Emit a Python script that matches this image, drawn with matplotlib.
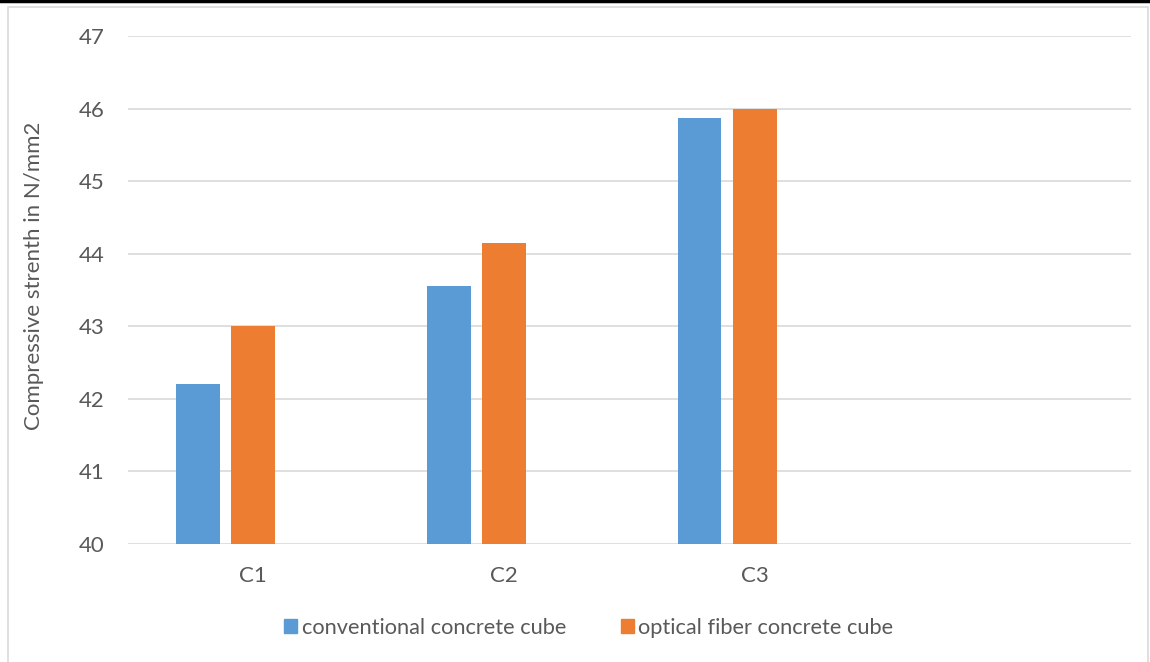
import matplotlib.pyplot as plt
import numpy as np
from matplotlib.patches import Rectangle
from matplotlib.lines import Line2D

categories = ["C1", "C2", "C3", ""]
conventional = [42.2, 43.56, 45.87, None]
optical_fiber = [43.0, 44.15, 46.0, None]
series_names = ["conventional concrete cube", "optical fiber concrete cube"]
y_ticks = [40, 41, 42, 43, 44, 45, 46, 47]

BLUE = "#5b9bd5"
ORANGE = "#ed7d31"
TEXT = "#595959"
GRID = "#d9d9d9"

plt.rcParams["font.family"] = ["Lato", "DejaVu Sans"]

fig = plt.figure(figsize=(11.5, 6.62), dpi=100)
ax = fig.add_axes([128 / 1150, 1 - 544 / 662, (1131 - 128) / 1150, (544 - 36) / 662])

x = np.arange(len(categories))
width = 0.175
pitch = 0.221  # three-slot grouping: blue, orange, empty third slot


def vals(v):
    return np.array([np.nan if a is None else a for a in v], dtype=float)


base = y_ticks[0]
ax.bar(x - pitch, vals(conventional) - base, width, bottom=base, color=BLUE, zorder=3)
ax.bar(x, vals(optical_fiber) - base, width, bottom=base, color=ORANGE, zorder=3)

ax.set_xlim(-0.5, len(categories) - 0.5)
ax.set_ylim(y_ticks[0], y_ticks[-1])
ax.set_yticks(y_ticks)
ax.set_xticks(x)
ax.set_xticklabels(categories)
ax.grid(axis="y", color=GRID, linewidth=1.2, zorder=0)
for s in ax.spines.values():
    s.set_visible(False)
ax.tick_params(axis="both", length=0, colors=TEXT, labelsize=16)
ax.tick_params(axis="y", pad=17)
ax.tick_params(axis="x", pad=16)

ax.set_ylabel("Compressive strenth in N/mm2", color=TEXT, fontsize=16)
ax.yaxis.set_label_coords(-0.084, 0.527)

handles = [Rectangle((0, 0), 1, 1, color=BLUE), Rectangle((0, 0), 1, 1, color=ORANGE)]
fig.legend(handles, series_names, loc="center", bbox_to_anchor=(0.512, 1 - 628 / 662),
           ncol=2, frameon=False, fontsize=15.7, labelcolor=TEXT, handlelength=0.6,
           handleheight=0.6, handletextpad=0.2, columnspacing=2.5)

# chart frame
fig.patches.append(Rectangle((8 / 1150, -0.01), 1140 / 1150, 1 - 7 / 662 + 0.01,
                             transform=fig.transFigure, fill=False,
                             edgecolor=GRID, linewidth=1.2))
fig.lines.append(Line2D([0, 1], [1 - 1 / 662, 1 - 1 / 662], transform=fig.transFigure,
                        color="black", linewidth=2.5))

fig.savefig("out.png", dpi=100)
